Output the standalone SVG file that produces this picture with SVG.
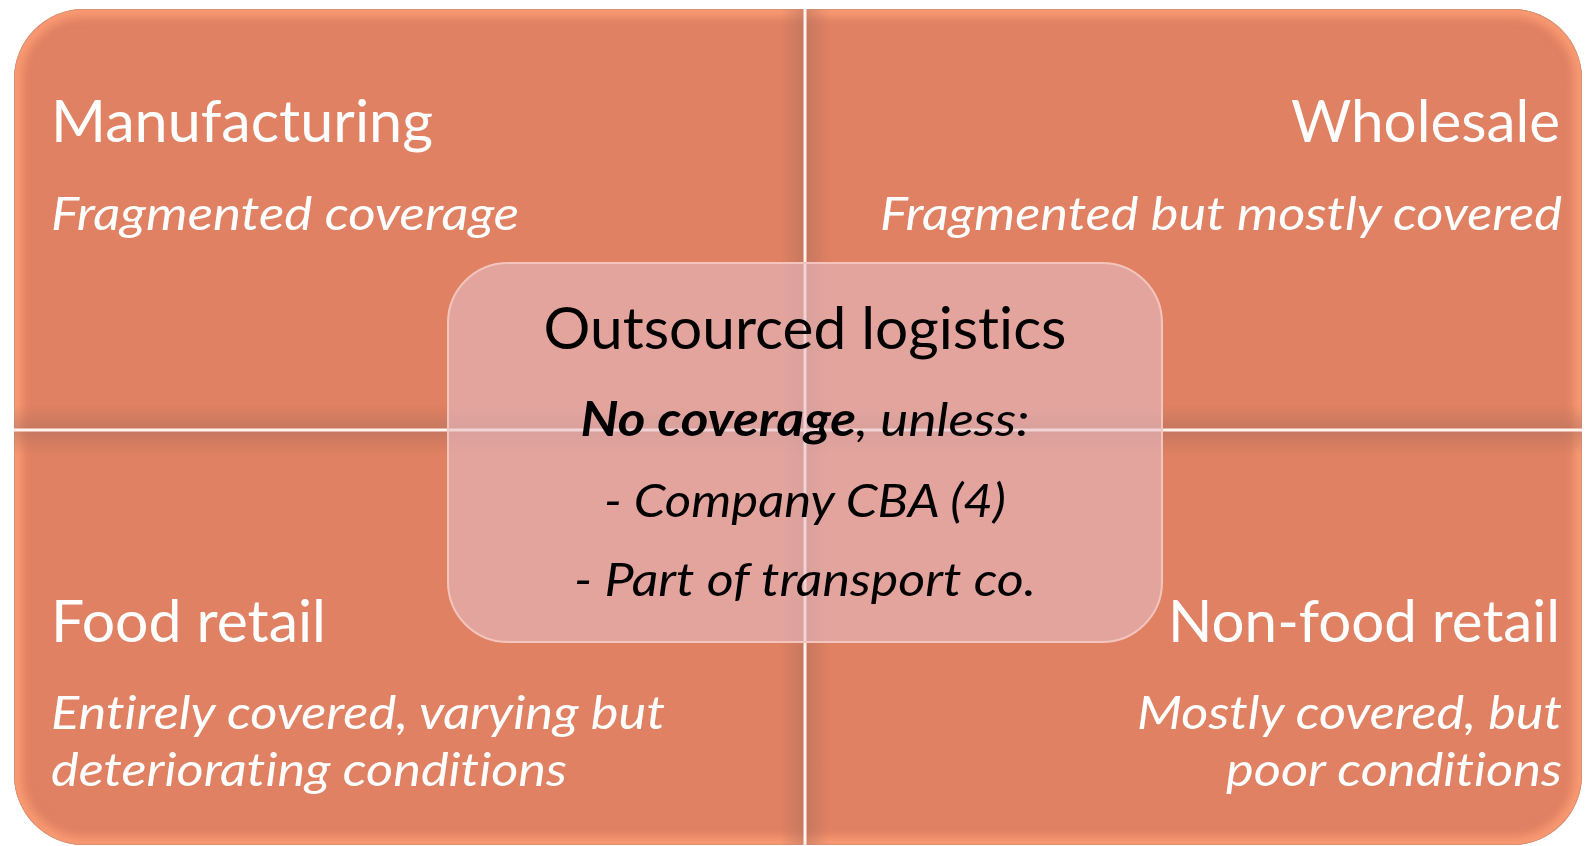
<svg xmlns="http://www.w3.org/2000/svg" width="1585" height="846" viewBox="0 0 1585 846">
<style>
text{font-variant-ligatures:none;font-feature-settings:"liga" 0,"dlig" 0}
.q{fill:#df8162}
.t{font-family:Lato,"Open Sans","Liberation Sans",sans-serif;fill:#ffffff;font-size:59px}
.s{font-family:Lato,"Open Sans","Liberation Sans",sans-serif;fill:#ffffff;font-size:47px;font-style:italic}
.ct{font-family:Lato,"Open Sans","Liberation Sans",sans-serif;fill:#000000;font-size:59px}
.cs{font-family:Lato,"Open Sans","Liberation Sans",sans-serif;fill:#000000;font-size:47px;font-style:italic}
</style>
<defs>
<clipPath id="outer"><rect x="14" y="9" width="1568" height="836" rx="70"/></clipPath>
<filter id="blur" x="-5%" y="-5%" width="110%" height="110%"><feGaussianBlur stdDeviation="4"/></filter>
<filter id="glow" x="-5%" y="-5%" width="110%" height="110%"><feGaussianBlur stdDeviation="1.5"/></filter>
<linearGradient id="dl" x1="0" y1="0" x2="1" y2="0"><stop offset="0" stop-color="#a86a5c" stop-opacity="0"/><stop offset="1" stop-color="#a86a5c" stop-opacity="0.45"/></linearGradient>
<linearGradient id="dr" x1="0" y1="0" x2="1" y2="0"><stop offset="0" stop-color="#a86a5c" stop-opacity="0.45"/><stop offset="1" stop-color="#a86a5c" stop-opacity="0"/></linearGradient>
<linearGradient id="du" x1="0" y1="0" x2="0" y2="1"><stop offset="0" stop-color="#a86a5c" stop-opacity="0"/><stop offset="1" stop-color="#a86a5c" stop-opacity="0.45"/></linearGradient>
<linearGradient id="dd" x1="0" y1="0" x2="0" y2="1"><stop offset="0" stop-color="#a86a5c" stop-opacity="0.45"/><stop offset="1" stop-color="#a86a5c" stop-opacity="0"/></linearGradient>
</defs>

<g id="manufacturing">
<path class="q" d="M14,430 L14,79 A70,70 0 0 1 84,9 L805,9 L805,430 Z"/>
<text class="t" x="51" y="142" textLength="382" lengthAdjust="spacingAndGlyphs">Manufacturing</text>
<text class="s" x="51" y="230" textLength="468" lengthAdjust="spacingAndGlyphs">Fragmented coverage</text>
</g>
<g id="wholesale">
<path class="q" d="M805,9 L1512,9 A70,70 0 0 1 1582,79 L1582,430 L805,430 Z"/>
<text class="t" x="1560" y="142" text-anchor="end" textLength="269" lengthAdjust="spacingAndGlyphs">Wholesale</text>
<text class="s" x="1562" y="230" text-anchor="end" textLength="682" lengthAdjust="spacingAndGlyphs">Fragmented but mostly covered</text>
</g>
<g id="food-retail">
<path class="q" d="M14,430 L805,430 L805,845 L84,845 A70,70 0 0 1 14,775 Z"/>
<text class="t" x="51" y="642" textLength="275" lengthAdjust="spacingAndGlyphs">Food retail</text>
<text class="s" x="51" y="729" textLength="614" lengthAdjust="spacingAndGlyphs">Entirely covered, varying but</text>
<text class="s" x="51" y="786" textLength="516" lengthAdjust="spacingAndGlyphs">deteriorating conditions</text>
</g>
<g id="non-food-retail">
<path class="q" d="M805,430 L1582,430 L1582,775 A70,70 0 0 1 1512,845 L805,845 Z"/>
<text class="t" x="1560" y="642" text-anchor="end" textLength="392" lengthAdjust="spacingAndGlyphs">Non-food retail</text>
<text class="s" x="1562" y="729" text-anchor="end" textLength="425" lengthAdjust="spacingAndGlyphs">Mostly covered, but</text>
<text class="s" x="1562" y="786" text-anchor="end" textLength="336" lengthAdjust="spacingAndGlyphs">poor conditions</text>
</g>

<g id="bevel" clip-path="url(#outer)">
<rect x="14" y="9" width="1568" height="836" rx="70" fill="none" stroke="#fa9a72" stroke-width="16" filter="url(#blur)"/>
<rect x="780" y="9" width="25" height="836" fill="url(#dl)"/>
<rect x="805" y="9" width="25" height="836" fill="url(#dr)"/>
<rect x="14" y="405" width="1568" height="25" fill="url(#du)"/>
<rect x="14" y="430" width="1568" height="25" fill="url(#dd)"/>
<rect x="14" y="9" width="1568" height="836" rx="70" fill="none" stroke="#b88a78" stroke-width="1.5" opacity="0.7"/>
</g>

<g id="connectors" clip-path="url(#outer)">
<line x1="805" y1="9" x2="805" y2="845" stroke="#ffb896" stroke-width="8" filter="url(#glow)"/>
<line x1="14" y1="430" x2="1582" y2="430" stroke="#ffb896" stroke-width="8" filter="url(#glow)"/>
<line x1="805" y1="9" x2="805" y2="845" stroke="#fff4ee" stroke-width="3"/>
<line x1="14" y1="430" x2="1582" y2="430" stroke="#fff4ee" stroke-width="3"/>
</g>

<g id="outsourced-logistics">
<rect x="448" y="263" width="714" height="379" rx="60" fill="#e6bdc4" fill-opacity="0.6" stroke="#f3c5bd" stroke-width="2"/>
<text class="ct" x="805" y="349" text-anchor="middle" textLength="523" lengthAdjust="spacingAndGlyphs">Outsourced logistics</text>
<text class="cs" x="805" y="436" text-anchor="middle" textLength="449" lengthAdjust="spacingAndGlyphs"><tspan font-weight="bold">No coverage</tspan>, unless:</text>
<text class="cs" x="805" y="517" text-anchor="middle" textLength="402" lengthAdjust="spacingAndGlyphs">- Company CBA (4)</text>
<text class="cs" x="805" y="596" text-anchor="middle" textLength="462" lengthAdjust="spacingAndGlyphs">- Part of transport co.</text>
</g>
</svg>
